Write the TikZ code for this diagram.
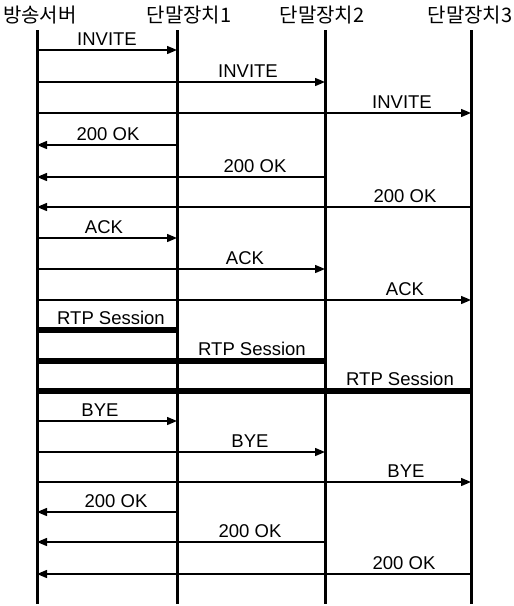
\documentclass[tikz,border=0pt]{standalone}
\usepackage{fontspec}
\setmainfont{Liberation Sans}
\newfontfamily\kr{Noto Sans CJK KR}
\usetikzlibrary{arrows.meta}
\begin{document}
\begin{tikzpicture}[x=1pt,y=-1pt,
  life/.style={line width=3pt},
  msg/.style={line width=1.4pt,-{Triangle[length=10pt,width=8pt]}},
  rtp/.style={line width=6.5pt},
  lbl/.style={font=\fontsize{18.5}{18.5}\selectfont, inner sep=0pt},
  hdr/.style={font=\kr\fontsize{20}{20}\selectfont, inner sep=0pt}]
\useasboundingbox (0,0) rectangle (514,606);
% headers
\node[hdr] (h0) at (40,15) {방송서버};
\node[hdr] (h1) at (189,15) {단말장치1};
\node[hdr] (h2) at (322,15) {단말장치2};
\node[hdr] (h3) at (470,15) {단말장치3};
% lifelines
\foreach \i/\x in {0/37,1/177,2/325,3/471}{
  \coordinate (t\i) at (\x,30);
  \coordinate (b\i) at (\x,604);
  \draw[life] (t\i) -- (b\i);
}
% messages: from/to/y/label/labelx
\foreach \n/\a/\b/\y/\t/\lx in {
  m1/0/1/50/INVITE/107, m2/0/2/82/INVITE/248, m3/0/3/113/INVITE/402,
  m4/1/0/145/200 OK/108, m5/2/0/177/200 OK/255, m6/3/0/207/200 OK/405,
  m7/0/1/238/ACK/104, m8/0/2/269/ACK/245, m9/0/3/300/ACK/405,
  m10/0/1/421/BYE/100, m11/0/2/452/BYE/250, m12/0/3/482/BYE/406,
  m13/1/0/512/200 OK/116, m14/2/0/542/200 OK/250, m15/3/0/574/200 OK/404}{
  \coordinate (\n s) at (t\a |- 0,\y);
  \coordinate (\n e) at (t\b |- 0,\y);
  \draw[msg] (\n s) -- (\n e);
  \node[lbl,anchor=base] (\n l) at (\lx,\y-4.5) {\t};
}
% RTP sessions
\foreach \n/\b/\y/\lx in {r1/1/330/111, r2/2/361/252, r3/3/391/400}{
  \coordinate (\n s) at (t0 |- 0,\y);
  \coordinate (\n e) at (t\b |- 0,\y);
  \draw[rtp] (\n s) -- (\n e);
  \node[lbl,anchor=base] (\n l) at (\lx,\y-5.5) {RTP Session};
}
\end{tikzpicture}
\end{document}
